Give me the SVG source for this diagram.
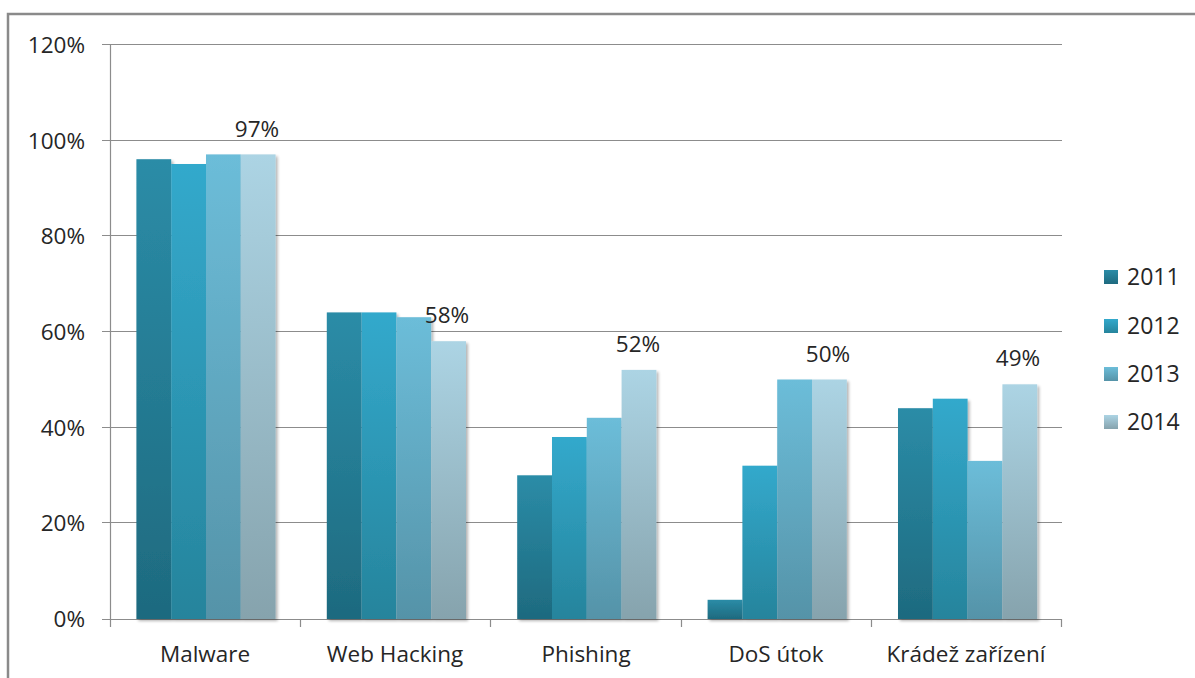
<svg xmlns="http://www.w3.org/2000/svg" width="1195" height="678" viewBox="0 0 1195 678">
<style>
text{font-family:"Open Sans","Liberation Sans",sans-serif;fill:#262626;}
.ax{font-size:22.5px;text-anchor:end;}
.cat{font-size:22.5px;text-anchor:middle;}
.val{font-size:22.5px;text-anchor:middle;}
.lg{font-size:23px;}
.grid{stroke:#8c8c8c;stroke-width:1.2;fill:none;}
.s11{fill:url(#g11);}
.s12{fill:url(#g12);}
.s13{fill:url(#g13);}
.s14{fill:url(#g14);}
</style>
<defs>
<linearGradient id="g11" x1="0" y1="0" x2="0" y2="1"><stop offset="0" stop-color="#2b8ca7"/><stop offset="1" stop-color="#1e6a7f"/></linearGradient>
<linearGradient id="g12" x1="0" y1="0" x2="0" y2="1"><stop offset="0" stop-color="#33a9cc"/><stop offset="1" stop-color="#26849c"/></linearGradient>
<linearGradient id="g13" x1="0" y1="0" x2="0" y2="1"><stop offset="0" stop-color="#6cbdd9"/><stop offset="1" stop-color="#5593a8"/></linearGradient>
<linearGradient id="g14" x1="0" y1="0" x2="0" y2="1"><stop offset="0" stop-color="#acd4e4"/><stop offset="1" stop-color="#86a3ad"/></linearGradient>
<filter id="sh" x="-10%" y="-5%" width="130%" height="110%"><feGaussianBlur in="SourceAlpha" stdDeviation="1.5"/><feOffset dx="1.5" dy="1.5"/><feComponentTransfer><feFuncA type="linear" slope="0.3"/></feComponentTransfer><feMerge><feMergeNode/><feMergeNode in="SourceGraphic"/></feMerge></filter>
</defs>
<rect x="0" y="0" width="1195" height="678" fill="#fff"/>
<path d="M8,678 V14 H1195" fill="none" stroke="#8a8a8a" stroke-width="2.5"/>
<g id="axes">
<path class="grid" d="M102,44.5H1062M102,140.5H1062M102,235.5H1062M102,331.5H1062M102,427.5H1062M102,522.5H1062M102,619.5H1062"/>
<path class="grid" d="M110.5,44V627M300.5,619V627M490.5,619V627M681.5,619V627M871.5,619V627M1061.5,619V627"/>
<text class="ax" x="85" y="53">120%</text>
<text class="ax" x="85" y="149">100%</text>
<text class="ax" x="85" y="244">80%</text>
<text class="ax" x="85" y="340">60%</text>
<text class="ax" x="85" y="436">40%</text>
<text class="ax" x="85" y="531">20%</text>
<text class="ax" x="85" y="627">0%</text>
</g>
<g id="malware" filter="url(#sh)">
<rect class="s11" x="136.4" y="159.2" width="34.8" height="459.8"/>
<rect class="s12" x="171.2" y="164" width="34.8" height="455"/>
<rect class="s13" x="206" y="154.4" width="34.8" height="464.6"/>
<rect class="s14" x="240.8" y="154.4" width="34.8" height="464.6"/>
</g>
<g id="webhacking" filter="url(#sh)">
<rect class="s11" x="326.8" y="312.4" width="34.8" height="306.6"/>
<rect class="s12" x="361.6" y="312.4" width="34.8" height="306.6"/>
<rect class="s13" x="396.4" y="317.2" width="34.8" height="301.8"/>
<rect class="s14" x="431.2" y="341.2" width="34.8" height="277.8"/>
</g>
<g id="phishing" filter="url(#sh)">
<rect class="s11" x="517.2" y="475.3" width="34.8" height="143.7"/>
<rect class="s12" x="552" y="437" width="34.8" height="182"/>
<rect class="s13" x="586.8" y="417.8" width="34.8" height="201.2"/>
<rect class="s14" x="621.6" y="369.9" width="34.8" height="249.1"/>
</g>
<g id="dos" filter="url(#sh)">
<rect class="s11" x="707.6" y="599.8" width="34.8" height="19.2"/>
<rect class="s12" x="742.4" y="465.7" width="34.8" height="153.3"/>
<rect class="s13" x="777.2" y="379.5" width="34.8" height="239.5"/>
<rect class="s14" x="812" y="379.5" width="34.8" height="239.5"/>
</g>
<g id="kradez" filter="url(#sh)">
<rect class="s11" x="898" y="408.2" width="34.8" height="210.8"/>
<rect class="s12" x="932.8" y="398.7" width="34.8" height="220.3"/>
<rect class="s13" x="967.6" y="460.9" width="34.8" height="158.1"/>
<rect class="s14" x="1002.4" y="384.3" width="34.8" height="234.7"/>
</g>
<g id="values">
<text class="val" x="257" y="137">97%</text>
<text class="val" x="447" y="323">58%</text>
<text class="val" x="638" y="352">52%</text>
<text class="val" x="828" y="362">50%</text>
<text class="val" x="1018" y="366">49%</text>
</g>
<g id="categories">
<text class="cat" x="205" y="662">Malware</text>
<text class="cat" x="395" y="662">Web Hacking</text>
<text class="cat" x="586" y="662">Phishing</text>
<text class="cat" x="776" y="662">DoS útok</text>
<text class="cat" x="966" y="662">Krádež zařízení</text>
</g>
<g id="legend">
<rect class="s11" x="1104" y="270" width="14" height="14"/>
<text class="lg" x="1127" y="285">2011</text>
<rect class="s12" x="1104" y="319" width="14" height="14"/>
<text class="lg" x="1127" y="334">2012</text>
<rect class="s13" x="1104" y="367" width="14" height="14"/>
<text class="lg" x="1127" y="382">2013</text>
<rect class="s14" x="1104" y="415" width="14" height="14"/>
<text class="lg" x="1127" y="430">2014</text>
</g>
</svg>
